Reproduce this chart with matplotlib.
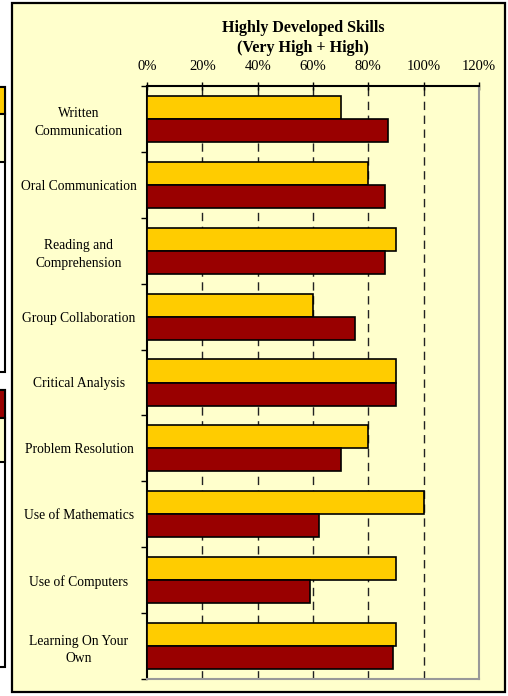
import matplotlib
matplotlib.use("Agg")
import matplotlib.pyplot as plt
from matplotlib.patches import Rectangle
import numpy as np

# skill categories (top to bottom)
skills = ["Written\nCommunication", "Oral Communication", "Reading and\nComprehension",
          "Group Collaboration", "Critical Analysis", "Problem Resolution",
          "Use of Mathematics", "Use of Computers", "Learning On Your\nOwn"]
# percentages for the two series
series_a = [70, 80, 90, 60, 90, 80, 100, 90, 90]
series_b = [87, 86, 86, 75, 90, 70, 62, 59, 89]
x_ticks = [0, 20, 40, 60, 80, 100, 120]

plt.rcParams['font.family'] = ['Liberation Serif', 'DejaVu Serif']

W, H = 508, 696
cream = "#FFFFCC"
fig = plt.figure(figsize=(W / 100, H / 100), dpi=100, facecolor="white")

def px_rect(x0, y0, x1, y1, **kw):
    # rectangle given in pixel coords (origin top-left), drawn behind the axes
    r = Rectangle((x0 / W, 1 - y1 / H), (x1 - x0) / W, (y1 - y0) / H,
                  transform=fig.transFigure, figure=fig, zorder=-10, **kw)
    fig.patches.append(r)

# cut-off pieces of the neighbouring chart on the left
px_rect(-5, 87, 5, 372, facecolor="white", edgecolor="black", lw=1.5)
px_rect(-5, 87, 5, 114, facecolor="#FFCC00", edgecolor="black", lw=1.5)
px_rect(-5, 114, 5, 162, facecolor=cream, edgecolor="black", lw=1.5)
px_rect(-5, 390, 5, 667, facecolor="white", edgecolor="black", lw=1.5)
px_rect(-5, 390, 5, 418, facecolor="#990000", edgecolor="black", lw=1.5)
px_rect(-5, 418, 5, 462, facecolor=cream, edgecolor="black", lw=1.5)

# chart panel
px_rect(12, 3, 505, 692, facecolor=cream, edgecolor="black", lw=1.6)

ax = fig.add_axes([147 / W, 1 - 679 / H, 332 / W, 593 / H])
ax.set_facecolor(cream)

y = np.arange(len(skills))
h = 0.35
ax.barh(y - h / 2, series_a, height=h, color="#FFCC00", edgecolor="black", lw=1.2, zorder=3)
ax.barh(y + h / 2, series_b, height=h, color="#990000", edgecolor="black", lw=1.2, zorder=3)

ax.set_xlim(0, 120)
ax.set_ylim(len(skills) - 0.5, -0.5)

ax.xaxis.tick_top()
ax.set_xticks(x_ticks)
ax.set_xticklabels([f"{t}%" for t in x_ticks], fontsize=10.5)
ax.tick_params(axis="x", direction="inout", length=6, width=1, pad=6)

ax.set_yticks(y)
ax.set_yticklabels(skills, fontsize=9.8, ha="center", multialignment="center", linespacing=1.45)
ax.tick_params(axis="y", which="major", length=0, pad=49)
ax.set_yticks(np.arange(len(skills) + 1) - 0.5, minor=True)
ax.tick_params(axis="y", which="minor", direction="out", length=4, width=1)

for t in x_ticks[1:-1]:
    ax.axvline(t, color="#222222", lw=1, dashes=(6, 4), zorder=1)

ax.spines["left"].set_linewidth(1.5)
ax.spines["top"].set_linewidth(1.5)
for s in ["right", "bottom"]:
    ax.spines[s].set_color("#999999")
    ax.spines[s].set_linewidth(1.5)

fig.text(303 / W, 1 - 38 / H, "Highly Developed Skills\n(Very High + High)",
         ha="center", va="center", fontsize=11.5, fontweight="bold", linespacing=1.4)

fig.savefig("out.png", dpi=100, facecolor="white")
